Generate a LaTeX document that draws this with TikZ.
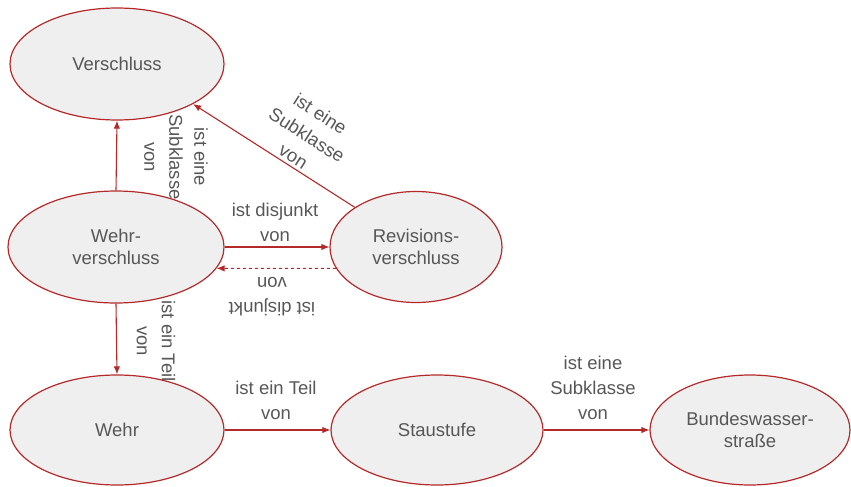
\documentclass[tikz,border=0pt]{standalone}
\usepackage{fontspec}
\setmainfont{Liberation Sans}
\usetikzlibrary{shapes.geometric,arrows.meta}
\definecolor{edgered}{HTML}{B42A2A}
\definecolor{nodefill}{HTML}{EFEFEF}
\definecolor{textgray}{HTML}{575757}
\begin{document}
\begin{tikzpicture}[x=1pt,y=-1pt,
  concept/.style={ellipse,draw=edgered,fill=nodefill,line width=1.2pt,
    inner sep=0pt,text=textgray,align=center,
    font=\fontsize{18.5}{22}\selectfont},
  rel/.style={draw=edgered,line width=1.1pt,-{Latex[length=8pt,width=6.5pt]}},
  lbl/.style={text=textgray,align=center,inner sep=0pt,
    font=\fontsize{18.5}{25}\selectfont}]
\useasboundingbox (0,0) rectangle (851,487);

% concepts
\node[concept,minimum width=214pt,minimum height=112pt] (vs)  at (117,64)  {Verschluss};
\node[concept,minimum width=216pt,minimum height=112pt] (wvs) at (116,247) {Wehr-\\verschluss};
\node[concept,minimum width=172pt,minimum height=111pt] (rvs) at (416,247) {Revisions-\\verschluss};
\node[concept,minimum width=214pt,minimum height=110pt] (wehr) at (117,430) {Wehr};
\node[concept,minimum width=212pt,minimum height=110pt] (stau) at (437,430) {Staustufe};
\node[concept,minimum width=200pt,minimum height=110pt] (bws) at (750,430) {Bundeswasser-\\straße};

% relations
\draw[rel] (wvs.north) -- (vs.south);
\draw[rel] (rvs.north west) -- (vs.south east);
\draw[rel] (wvs.east) -- (rvs.west);
% dashed inverse: border angles chosen so both ends lie 22pt below the centres
\draw[rel,dashed] (rvs.195.6) -- (wvs.-12.5);
\draw[rel] (wvs.south) -- (wehr.north);
\draw[rel] (wehr.east) -- (stau.west);
\draw[rel] (stau.east) -- (bws.west);

% relation labels
\node[lbl,rotate=-90] (l1) at (176,157) {ist eine\\Subklasse\\von};
\node[lbl,rotate=-32.5] (l2) at (307,135) {ist eine\\Subklasse\\von};
\node[lbl] (l3) at (275,222) {ist disjunkt\\von};
\node[lbl,rotate=180] (l4) at (272,297) {ist disjunkt\\von};
\node[lbl,rotate=-90] (l5) at (156,341) {ist ein Teil\\von};
\node[lbl] (l6) at (276,400) {ist ein Teil\\von};
\node[lbl] (l7) at (593,388) {ist eine\\Subklasse\\von};
\end{tikzpicture}
\end{document}
